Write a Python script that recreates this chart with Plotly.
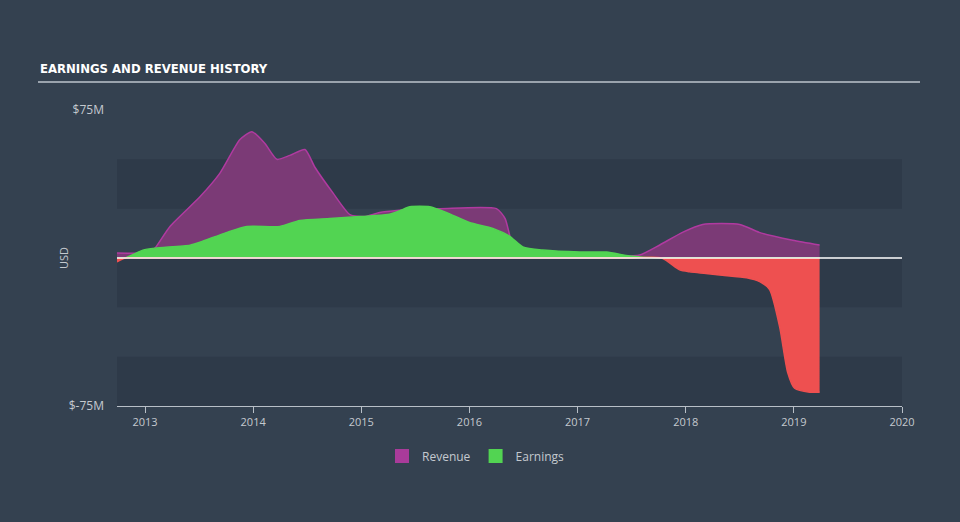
import plotly.graph_objects as go

# ---- data (decimal years, values in $M) ----
rev_x = [2012.741, 2013.046, 2013.092, 2013.231, 2013.508, 2013.693, 2013.878, 2013.989,
         2014.109, 2014.220, 2014.340, 2014.479, 2014.571, 2014.738, 2014.895, 2015.033,
         2015.17, 2015.54, 2015.73, 2016.25, 2016.33, 2016.39, 2016.45, 2016.7, 2017.0,
         2017.4, 2017.575, 2017.76, 2017.97, 2018.157, 2018.50, 2018.68, 2018.989, 2019.238]
rev_y = [2.5, 3, 5, 16, 31, 43, 60, 64,
         58, 50, 52, 55, 46, 33, 22, 21,
         23, 25, 25, 25, 20, 8, 3, 2, 2,
         1, 1.5, 6.6, 13, 17, 17, 13, 9, 6.6]

earn_x = [2012.741, 2012.815, 2012.98, 2013.092, 2013.416, 2013.508, 2013.758, 2013.943,
          2014.248, 2014.432, 2014.71, 2014.987, 2015.246, 2015.357, 2015.449, 2015.634,
          2015.79, 2016.0, 2016.216, 2016.373, 2016.494, 2016.678, 2017.02, 2017.27,
          2017.482, 2017.778, 2017.944, 2018.037, 2018.314, 2018.564, 2018.684, 2018.776,
          2018.869, 2018.943, 2019.007, 2019.146, 2019.238]
earn_y = [-2, 0, 4, 5, 6.5, 8, 13, 16,
          16, 19, 20, 21, 22, 24, 26, 26,
          23, 18, 15, 11, 5.6, 4, 3, 3,
          1, 0, -6, -7, -8.6, -10, -12, -16,
          -35, -58, -66, -68, -68]

x_ticks = [2013, 2014, 2015, 2016, 2017, 2018, 2019, 2020]
y_ticks = [-75, 75]
y_ticktext = ["$-75M", "$75M"]
x_range = [2012.741, 2020]

BG = "#344150"
BAND = "#2e3a49"
GREEN = "#52d452"
RED = "#ee5050"
PURPLE_FILL = "#7b3a76"
PURPLE_LINE = "#b03aa0"
PURPLE_KEY = "#a93b9a"
TXT = "#c4c9cf"

# split earnings into positive / negative parts
pos_y = [v if v >= 0 else 0 for v in earn_y]
neg_y = [v if v <= 0 else 0 for v in earn_y]

fig = go.Figure()
fig.add_trace(go.Scatter(
    x=rev_x, y=rev_y, name="Revenue", mode="lines", showlegend=False,
    line=dict(color=PURPLE_LINE, width=1.5, shape="spline", smoothing=0.6),
    fill="tozeroy", fillcolor=PURPLE_FILL))
fig.add_trace(go.Scatter(
    x=earn_x, y=pos_y, name="Earnings", mode="lines", showlegend=False,
    line=dict(color=GREEN, width=1.5, shape="spline", smoothing=0.6),
    fill="tozeroy", fillcolor=GREEN))
fig.add_trace(go.Scatter(
    x=earn_x, y=neg_y, name="Earnings (neg)", mode="lines", showlegend=False,
    line=dict(color=RED, width=1.5, shape="spline", smoothing=0.6),
    fill="tozeroy", fillcolor=RED))
# legend keys (square swatches)
for nm, col in [("Revenue", PURPLE_KEY), ("Earnings", GREEN)]:
    fig.add_trace(go.Scatter(x=[None], y=[None], name=nm, mode="markers",
                             marker=dict(symbol="square", size=14, color=col)))

shapes = []
for y0, y1 in [(25, 50), (-25, 0), (-75, -50)]:
    shapes.append(dict(type="rect", xref="paper", yref="y", x0=0, x1=1, y0=y0, y1=y1,
                       fillcolor=BAND, line=dict(width=0), layer="below"))
shapes.append(dict(type="line", xref="paper", yref="y", x0=0, x1=1, y0=0, y1=0,
                   line=dict(color="white", width=1.5), layer="above"))
# title underline
shapes.append(dict(type="line", xref="paper", yref="paper",
                   x0=(38 - 117) / 785, x1=(920 - 117) / 785,
                   y0=(406 - 82) / 296, y1=(406 - 82) / 296,
                   line=dict(color="#9aa3ad", width=2)))

fig.update_layout(
    width=960, height=522,
    margin=dict(l=117, r=58, t=110, b=116),
    paper_bgcolor=BG, plot_bgcolor=BG,
    font=dict(family="Open Sans", color=TXT, size=11),
    shapes=shapes,
    showlegend=True,
    legend=dict(orientation="h", x=(476 - 117) / 785, xanchor="center",
                y=-0.169, yanchor="middle",
                font=dict(size=12, color=TXT), bgcolor="rgba(0,0,0,0)",
                itemwidth=30),
    xaxis=dict(range=x_range, tickvals=x_ticks, ticktext=[str(t) for t in x_ticks],
               showgrid=False, zeroline=False, showline=True, linecolor="#b8bfc7",
               linewidth=1, ticks="outside", ticklen=6, tickcolor="#b8bfc7",
               tickfont=dict(size=11, color=TXT)),
    yaxis=dict(range=[-75, 75], tickvals=y_ticks, ticktext=y_ticktext,
               showgrid=False, zeroline=False, showline=False,
               ticklabelstandoff=12, tickfont=dict(size=12, color=TXT)),
    annotations=[
        dict(text="<b>EARNINGS AND REVENUE HISTORY</b>", xref="paper", yref="paper",
             x=(38 - 117) / 785, y=(406 - 68) / 296, xanchor="left", yanchor="middle",
             showarrow=False,
             font=dict(family="DejaVu Sans Condensed", size=13, color="white")),
        dict(text="USD", xref="paper", yref="paper", x=(63 - 117) / 785, y=0.5,
             textangle=-90, showarrow=False, xanchor="center", yanchor="middle",
             font=dict(size=11, color=TXT)),
    ],
)

fig.write_html("out.html")
